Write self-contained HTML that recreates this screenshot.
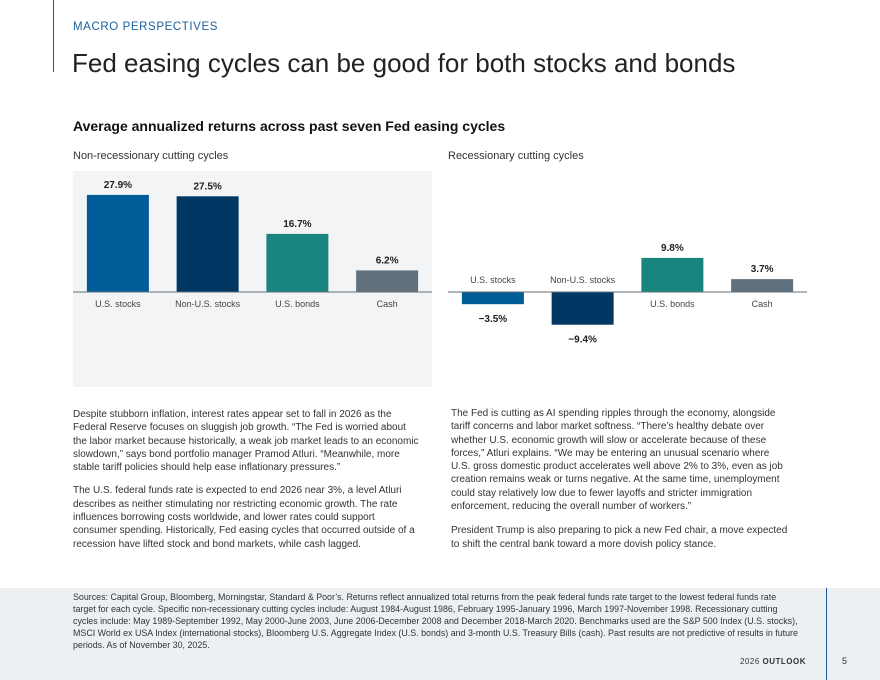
<!DOCTYPE html>
<html><head><meta charset="utf-8"><style>
body{margin:0;width:880px;height:680px;position:relative;background:#fff;font-family:"Liberation Sans",sans-serif;color:#2a2a2a;overflow:hidden}
.a{position:absolute;white-space:nowrap}
.body{font-size:10px;line-height:13.3px;color:#333}
.foot{font-size:8.9px;line-height:12px;color:#333}
</style></head><body>
<div class="a" style="left:53px;top:0;width:1px;height:72px;background:#1c5a96"></div>
<div class="a" style="left:73px;top:21px;font-size:11.5px;letter-spacing:0.6px;color:#1c5fa0">MACRO PERSPECTIVES</div>
<div class="a" style="left:72px;top:48px;font-size:26px;color:#222">Fed easing cycles can be good for both stocks and bonds</div>
<div class="a" style="left:73px;top:118px;font-size:14px;font-weight:bold;color:#111">Average annualized returns across past seven Fed easing cycles</div>
<div class="a" style="left:73px;top:150px;font-size:11px;color:#333">Non-recessionary cutting cycles</div>
<div class="a" style="left:448px;top:150px;font-size:11px;color:#333">Recessionary cutting cycles</div>
<svg class="a" style="left:0;top:0" width="880" height="400" id="svg"></svg>
<div class="a body" style="left:73px;top:408px">Despite stubborn inflation, interest rates appear set to fall in 2026 as the<br>Federal Reserve focuses on sluggish job growth. “The Fed is worried about<br>the labor market because historically, a weak job market leads to an economic<br>slowdown,” says bond portfolio manager Pramod Atluri. “Meanwhile, more<br>stable tariff policies should help ease inflationary pressures.”<div style="height:10px"></div>The U.S. federal funds rate is expected to end 2026 near 3%, a level Atluri<br>describes as neither stimulating nor restricting economic growth. The rate<br>influences borrowing costs worldwide, and lower rates could support<br>consumer spending. Historically, Fed easing cycles that occurred outside of a<br>recession have lifted stock and bond markets, while cash lagged.</div>
<div class="a body" style="left:451px;top:407px">The Fed is cutting as AI spending ripples through the economy, alongside<br>tariff concerns and labor market softness. “There’s healthy debate over<br>whether U.S. economic growth will slow or accelerate because of these<br>forces,” Atluri explains. “We may be entering an unusual scenario where<br>U.S. gross domestic product accelerates well above 2% to 3%, even as job<br>creation remains weak or turns negative. At the same time, unemployment<br>could stay relatively low due to fewer layoffs and stricter immigration<br>enforcement, reducing the overall number of workers.”<div style="height:11px"></div>President Trump is also preparing to pick a new Fed chair, a move expected<br>to shift the central bank toward a more dovish policy stance.</div>
<div class="a" style="left:0;top:588px;width:880px;height:92px;background:#edf0f3"></div>
<div class="a" style="left:826px;top:588px;width:1px;height:92px;background:#1c5a96"></div>
<div class="a foot" style="left:73px;top:591px">Sources: Capital Group, Bloomberg, Morningstar, Standard &amp; Poor’s. Returns reflect annualized total returns from the peak federal funds rate target to the lowest federal funds rate<br>target for each cycle. Specific non-recessionary cutting cycles include: August 1984-August 1986, February 1995-January 1996, March 1997-November 1998. Recessionary cutting<br>cycles include: May 1989-September 1992, May 2000-June 2003, June 2006-December 2008 and December 2018-March 2020. Benchmarks used are the S&amp;P 500 Index (U.S. stocks),<br>MSCI World ex USA Index (international stocks), Bloomberg U.S. Aggregate Index (U.S. bonds) and 3-month U.S. Treasury Bills (cash). Past results are not predictive of results in future<br>periods. As of November 30, 2025.</div>
<div class="a" style="right:74px;top:657px;font-size:8px;letter-spacing:0.5px;color:#333">2026 <b>OUTLOOK</b></div>
<div class="a" style="left:842px;top:656px;font-size:9px;color:#333">5</div>
<script>
const categories=["U.S. stocks","Non-U.S. stocks","U.S. bonds","Cash"];
const nonRecessionValues=[27.9,27.5,16.7,6.2];
const recessionValues=[-3.5,-9.4,9.8,3.7];
const valueLabelsLeft=["27.9%","27.5%","16.7%","6.2%"];
const valueLabelsRight=["\u22123.5%","\u22129.4%","9.8%","3.7%"];
const colors=["#005b99","#003763","#1a847f","#5f6f7b"];
const NS="http://www.w3.org/2000/svg";
const svg=document.getElementById('svg');
function mk(t,a){const e=document.createElementNS(NS,t);for(const k in a)e.setAttribute(k,a[k]);svg.appendChild(e);return e;}
const baseY=292,pxPer=3.48;
function y(v){return baseY-v*pxPer;}
function drawChart(x0,w,vals,labs,bg,nm){
  if(bg){const r=mk('rect',{x:x0,y:171,width:w,height:216,fill:'#f3f4f6'});
  }
  const slot=w/4,bw=62;
  vals.forEach((v,i)=>{
    const cx=x0+slot*i+slot/2;
    const top=Math.min(y(v),baseY),h=Math.abs(y(v)-baseY);
    const b=mk('rect',{x:cx-bw/2,y:top,width:bw,height:h,fill:colors[i]});
    
    
    const neg=v<0;
    const vl=mk('text',{x:cx,y:neg?y(v)+18:y(v)-7,'text-anchor':'middle','font-size':'10px','font-weight':'bold',fill:'#222','font-family':'Liberation Sans, sans-serif'});
    vl.textContent=labs[i];
    
    
    const cl=mk('text',{x:cx,y:neg?baseY-9:baseY+15,'text-anchor':'middle','font-size':'9px',fill:'#444','font-family':'Liberation Sans, sans-serif'});
    cl.textContent=categories[i];
    
    
  });
  const l=mk('line',{x1:x0,x2:x0+w,y1:baseY,y2:baseY,stroke:'#5f6f7b','stroke-width':1});
  
  
}
drawChart(73,359,nonRecessionValues,valueLabelsLeft,true,'non-recession');
drawChart(448,359,recessionValues,valueLabelsRight,false,'recession');
</script>
</body></html>
